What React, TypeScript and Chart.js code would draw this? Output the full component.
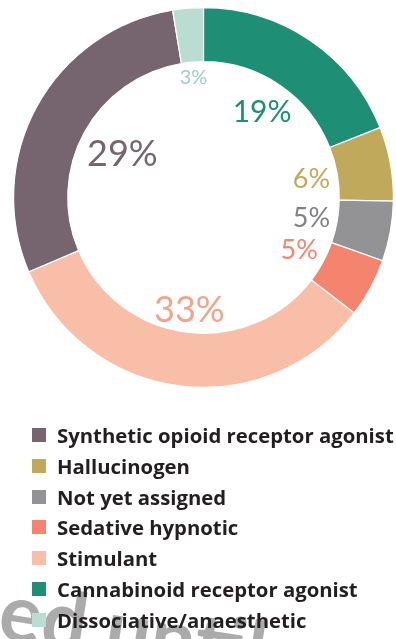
import React, { useEffect, useMemo, useRef } from "react";
import { Chart, registerables } from "chart.js";

Chart.register(...registerables);

const categories = [
  "Cannabinoid receptor agonist",
  "Hallucinogen",
  "Not yet assigned",
  "Sedative hypnotic",
  "Stimulant",
  "Synthetic opioid receptor agonist",
  "Dissociative/anaesthetic",
];
const shares = [19.0, 6.3, 5.1, 5.0, 33.2, 28.8, 2.6];
const legendOrder = [
  "Synthetic opioid receptor agonist",
  "Hallucinogen",
  "Not yet assigned",
  "Sedative hypnotic",
  "Stimulant",
  "Cannabinoid receptor agonist",
  "Dissociative/anaesthetic",
];
const watermarkText = ["Embargo", "ed until publication"];

const fillColors = ["#1e8f75", "#c0a95b", "#939396", "#f4846e", "#f9bea7", "#76656f", "#b9ddd0"];
const labelColors = ["#1e8f75", "#c0a95b", "#808085", "#f4846e", "#f0a58a", "#76656f", "#9fcfbf"];
const labelSizes = [30, 27, 27, 27, 36, 36, 20];

const W = 396;
const H = 639;
const LEGEND_FONT = '"Open Sans", Lato, sans-serif';
const LEGEND_TEXT_WIDTH = 337;

const pctLabels = {
  id: "pctLabels",
  afterDatasetsDraw(chart: any) {
    const ctx = chart.ctx;
    const meta = chart.getDatasetMeta(0);
    const values = chart.data.datasets[0].data as number[];
    meta.data.forEach((arc: any, i: number) => {
      const p = arc.getProps(["x", "y", "startAngle", "endAngle", "innerRadius"], true);
      const a = (p.startAngle + p.endAngle) / 2;
      const size = labelSizes[i];
      const text = Math.round(values[i]) + "%";
      ctx.save();
      ctx.font = `${size}px Lato, "Open Sans", sans-serif`;
      const w = ctx.measureText(text).width;
      const h = size * 0.72;
      const half = Math.abs(Math.cos(a)) * w / 2 + Math.abs(Math.sin(a)) * h / 2;
      const r = p.innerRadius - 6 - half;
      const cx = p.x + Math.cos(a) * r;
      const cy = p.y + Math.sin(a) * r;
      ctx.fillStyle = labelColors[i];
      ctx.textAlign = "center";
      ctx.textBaseline = "alphabetic";
      ctx.fillText(text, cx, cy + h / 2);
      ctx.restore();
    });
  },
};

const watermark = {
  id: "watermark",
  beforeDraw(chart: any) {
    const ctx = chart.ctx;
    ctx.save();
    ctx.translate(-4, 638);
    ctx.rotate((9 * Math.PI) / 180);
    ctx.font = `bold 80px Lato, "Open Sans", sans-serif`;
    ctx.fillStyle = "#ababab";
    ctx.textBaseline = "alphabetic";
    ctx.textAlign = "right";
    ctx.fillText(watermarkText[0], 0, 0);
    ctx.textAlign = "left";
    ctx.fillText(watermarkText[1], 0, 0);
    ctx.restore();
  },
};

export default function App() {
  const ref = useRef<HTMLCanvasElement | null>(null);

  const legendSize = useMemo(() => {
    const c = document.createElement("canvas").getContext("2d");
    if (!c) return 20;
    c.font = `700 20px ${LEGEND_FONT}`;
    let maxW = 0;
    legendOrder.forEach((t) => {
      maxW = Math.max(maxW, c.measureText(t).width);
    });
    return maxW > 0 ? (20 * LEGEND_TEXT_WIDTH) / maxW : 20;
  }, []);

  useEffect(() => {
    if (!ref.current) return;
    const chart = new Chart(ref.current, {
      type: "doughnut",
      data: {
        labels: categories,
        datasets: [
          {
            data: shares,
            backgroundColor: fillColors,
            borderColor: "#ffffff",
            borderWidth: 1.2,
          },
        ],
      },
      options: {
        responsive: false,
        animation: false,
        cutout: "71.5%",
        layout: { padding: { left: 13, right: 2, top: 7, bottom: 251 } },
        plugins: {
          legend: { display: false },
          tooltip: { enabled: false },
        },
      },
      plugins: [watermark, pctLabels],
    });
    return () => chart.destroy();
  }, []);

  const rowH = 30.8;
  const firstCenter = 435;

  return (
    <div style={{ position: "absolute", left: 0, top: 0, width: W, height: H, overflow: "hidden", background: "#fff" }}>
      <canvas ref={ref} width={W} height={H} style={{ position: "absolute", left: 0, top: 0, width: W, height: H }} />
      <div style={{ position: "absolute", left: 0, top: firstCenter - rowH / 2, width: W }}>
        {legendOrder.map((name) => {
          const idx = categories.indexOf(name);
          return (
            <div
              key={name}
              style={{
                display: "flex",
                alignItems: "center",
                height: rowH,
                fontFamily: LEGEND_FONT,
                fontWeight: 700,
                fontSize: legendSize,
                color: "#231f20",
                whiteSpace: "nowrap",
              }}
            >
              <span style={{ display: "inline-block", flex: "0 0 auto", width: 14, height: 14, marginLeft: 32, marginRight: 11, background: fillColors[idx] }} />
              <span style={{ flex: "0 0 auto" }}>{name}</span>
            </div>
          );
        })}
      </div>
    </div>
  );
}
